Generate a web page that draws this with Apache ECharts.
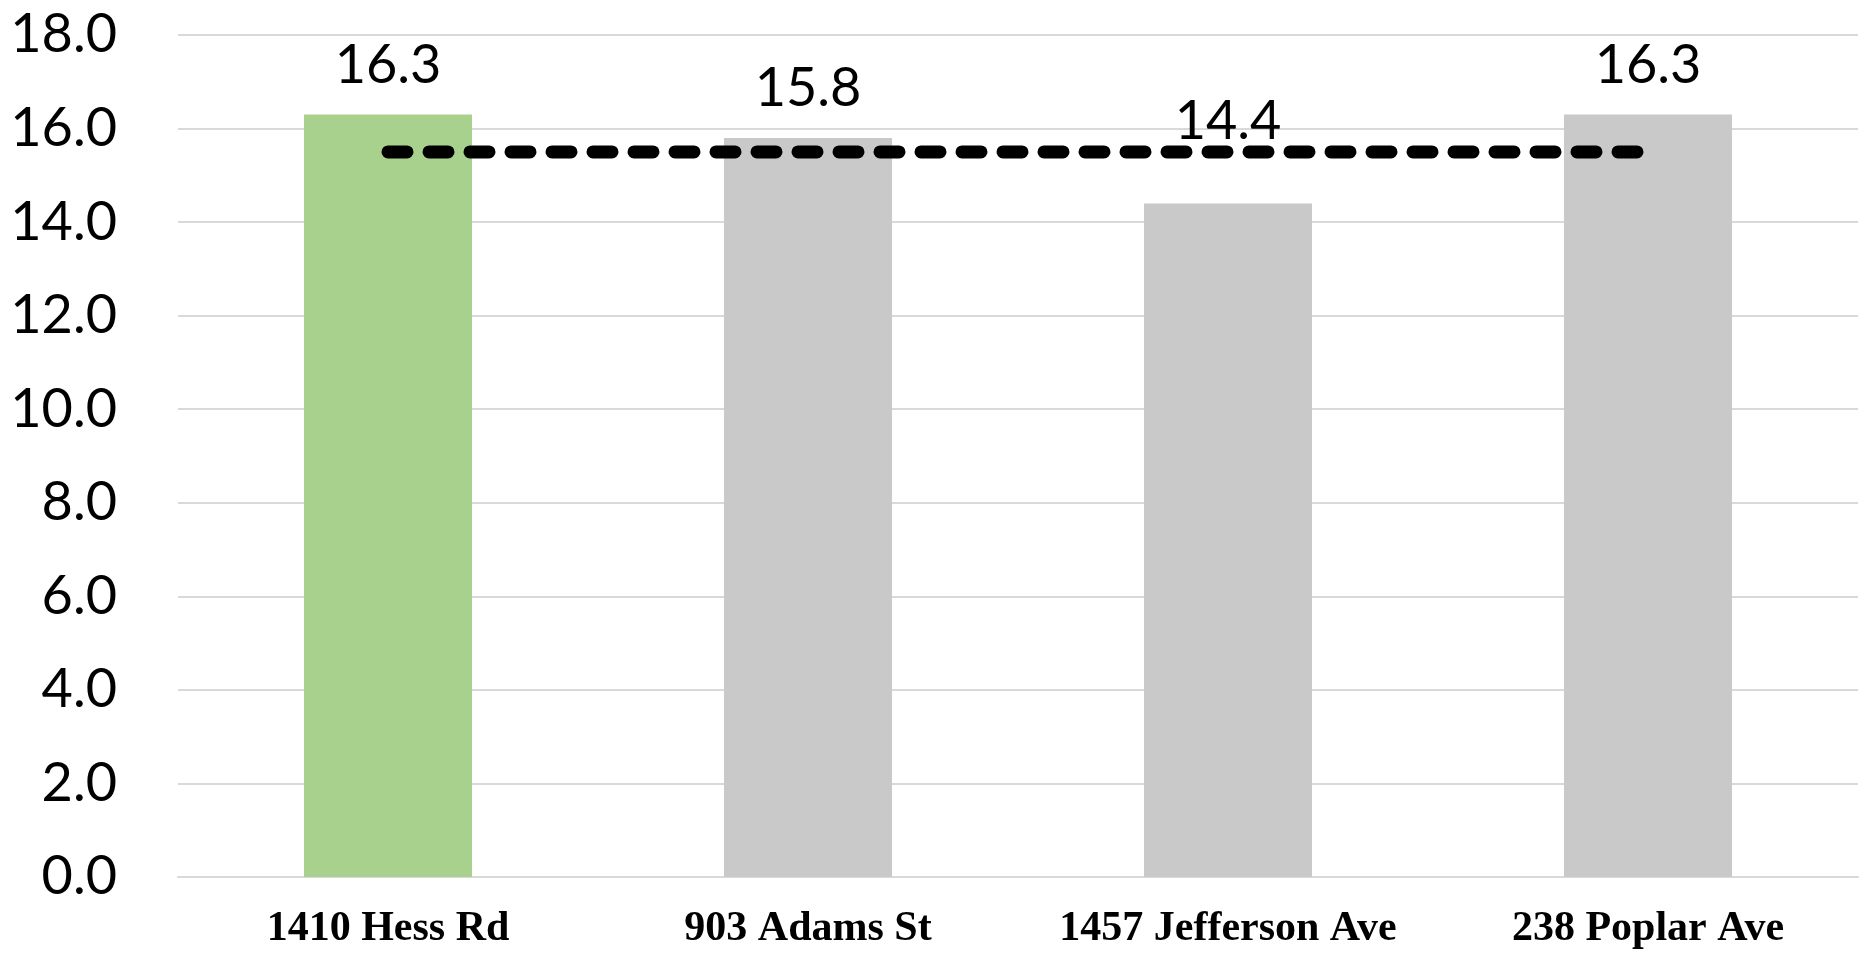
<!DOCTYPE html>
<html>
<head>
<meta charset="utf-8">
<style>
  html, body { margin: 0; padding: 0; background: #ffffff; }
  #chart { width: 1864px; height: 953px; }
</style>
<script src="https://cdn.jsdelivr.net/npm/echarts@6/dist/echarts.min.js"></script>
</head>
<body>
<div id="chart"></div>
<script>
// Property addresses and their values
const categories = ['1410 Hess Rd', '903 Adams St', '1457 Jefferson Ave', '238 Poplar Ave'];
const values = [16.3, 15.8, 14.4, 16.3];
// Comparable average reference line
const averageLine = [15.5, 15.5, 15.5, 15.5];
// Y-axis ticks
const yTicks = { min: 0, max: 18, interval: 2 };

const subjectColor = '#a9d18e';
const compColor = '#c9c9c9';
const numFont = 'Lato, "Noto Sans", sans-serif';

const barData = values.map((v, i) => {
  const item = {
    value: v,
    itemStyle: { color: i === 0 ? subjectColor : compColor }
  };
  if (i === 2) item.label = { offset: [0, -33] };
  return item;
});

const chart = echarts.init(document.getElementById('chart'), null, { renderer: 'canvas' });
chart.setOption({
  animation: false,
  backgroundColor: '#ffffff',
  grid: { left: 178, right: 6, top: 35, bottom: 76, containLabel: false },
  xAxis: {
    type: 'category',
    data: categories,
    axisTick: { show: false },
    axisLine: { show: true, lineStyle: { color: '#d9d9d9', width: 2 } },
    axisLabel: {
      interval: 0,
      hideOverlap: false,
      margin: 31,
      color: '#000000',
      fontFamily: '"Liberation Serif", "DejaVu Serif", serif',
      fontWeight: 'bold',
      fontSize: 42
    }
  },
  yAxis: {
    type: 'value',
    min: yTicks.min,
    max: yTicks.max,
    interval: yTicks.interval,
    axisLine: { show: false },
    axisTick: { show: false },
    splitLine: { lineStyle: { color: '#d9d9d9', width: 2 } },
    axisLabel: {
      margin: 61,
      color: '#000000',
      fontFamily: numFont,
      fontSize: 54,
      formatter: v => v.toFixed(1)
    }
  },
  series: [
    {
      type: 'bar',
      data: barData,
      barWidth: 168,
      label: {
        show: true,
        position: 'top',
        distance: 22,
        color: '#000000',
        fontFamily: numFont,
        fontSize: 54,
        formatter: p => p.value.toFixed(1)
      },
      z: 2
    },
    {
      type: 'line',
      data: averageLine,
      symbol: 'none',
      lineStyle: {
        color: '#000000',
        width: 13,
        type: [19, 22],
        cap: 'round'
      },
      z: 5
    }
  ]
});
</script>
</body>
</html>
